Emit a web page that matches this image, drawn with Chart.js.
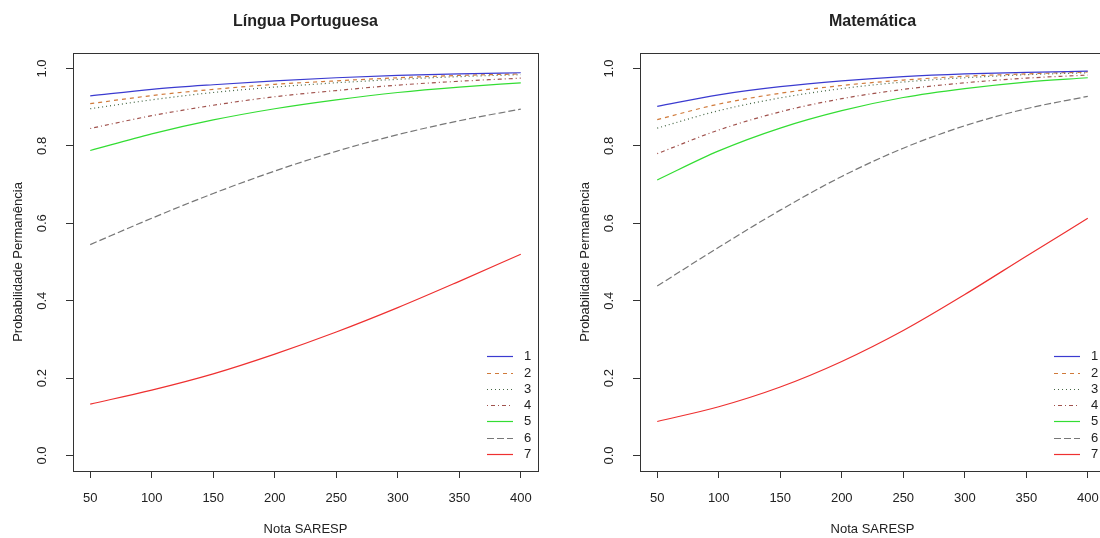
<!DOCTYPE html>
<html>
<head>
<meta charset="utf-8">
<script src="https://cdn.jsdelivr.net/npm/chart.js@4"></script>
<style>
  body { margin: 0; background: #fff; overflow: hidden; width: 1100px; height: 538px; }
  canvas { position: absolute; top: 0; }
</style>
</head>
<body>
<canvas id="lp" width="555" height="538" style="left:0"></canvas>
<canvas id="mat" width="567" height="538" style="left:555px"></canvas>
<script>
// --- data ---
const notas = [50, 100, 150, 200, 250, 300, 350, 400];
const xTicks = [50, 100, 150, 200, 250, 300, 350, 400];
const yTicks = [0, 0.2, 0.4, 0.6, 0.8, 1.0];
const yTickLabels = ['0.0', '0.2', '0.4', '0.6', '0.8', '1.0'];
const seriesNames = ['1', '2', '3', '4', '5', '6', '7'];

// Língua Portuguesa
const lp1 = [0.929, 0.946, 0.958, 0.968, 0.976, 0.982, 0.986, 0.989];
const lp2 = [0.909, 0.930, 0.946, 0.959, 0.968, 0.976, 0.982, 0.986];
const lp3 = [0.896, 0.919, 0.938, 0.952, 0.963, 0.972, 0.979, 0.984];
const lp4 = [0.845, 0.878, 0.905, 0.927, 0.943, 0.957, 0.967, 0.975];
const lp5 = [0.788, 0.831, 0.867, 0.896, 0.919, 0.938, 0.952, 0.963];
const lp6 = [0.545, 0.613, 0.677, 0.735, 0.786, 0.829, 0.865, 0.895];
const lp7 = [0.133, 0.169, 0.211, 0.262, 0.319, 0.382, 0.450, 0.520];

// Matemática
const mat1 = [0.902, 0.932, 0.953, 0.968, 0.979, 0.986, 0.990, 0.993];
const mat2 = [0.868, 0.908, 0.936, 0.956, 0.970, 0.980, 0.986, 0.991];
const mat3 = [0.846, 0.891, 0.924, 0.948, 0.965, 0.976, 0.984, 0.989];
const mat4 = [0.780, 0.841, 0.888, 0.922, 0.946, 0.963, 0.975, 0.983];
const mat5 = [0.712, 0.787, 0.846, 0.891, 0.925, 0.948, 0.965, 0.976];
const mat6 = [0.438, 0.538, 0.634, 0.721, 0.794, 0.852, 0.896, 0.928];
const mat7 = [0.088, 0.126, 0.177, 0.243, 0.323, 0.416, 0.515, 0.613];

// --- styles ---
const lineColors = ['#3b3bd0', '#d07a3a', '#446644', '#a0524d', '#33dd33', '#777777', '#ee3030'];
const lineDashes = [[], [4, 4], [1, 3], [1, 3, 4, 3], [], [7, 3], []];
const FONT = '"Liberation Sans", Arial, sans-serif';
const INK = '#222';

// draws the R-style box, rotated y labels, titles and legend
const rBase = {
  id: 'rBase',
  afterDraw(chart, args, opts) {
    const { ctx, chartArea: a, scales } = chart;
    ctx.save();
    ctx.strokeStyle = '#333';
    ctx.lineWidth = 1;
    ctx.setLineDash([]);
    const l = Math.round(a.left), t = Math.round(a.top);
    ctx.strokeRect(l + 0.5, t + 0.5, Math.round(a.right) - l, Math.round(a.bottom) - t);

    ctx.fillStyle = INK;
    // y tick labels, rotated like R's default
    ctx.font = '13px ' + FONT;
    ctx.textAlign = 'center';
    ctx.textBaseline = 'middle';
    yTicks.forEach((v, i) => {
      ctx.save();
      ctx.translate(a.left - 31, scales.y.getPixelForValue(v));
      ctx.rotate(-Math.PI / 2);
      ctx.fillText(yTickLabels[i], 0, 0);
      ctx.restore();
    });

    // axis titles
    ctx.save();
    ctx.translate(a.left - 55, (a.top + a.bottom) / 2);
    ctx.rotate(-Math.PI / 2);
    ctx.fillText('Probabilidade Permanência', 0, 0);
    ctx.restore();
    ctx.fillText('Nota SARESP', (a.left + a.right) / 2, a.bottom + 58);

    // main title
    ctx.font = 'bold 16px ' + FONT;
    ctx.fillText(opts.title, (a.left + a.right) / 2, 22);

    // legend (no box)
    ctx.font = '13px ' + FONT;
    ctx.textAlign = 'left';
    ctx.lineWidth = 1.2;
    seriesNames.forEach((name, i) => {
      const yy = Math.round(a.bottom - 17 - (seriesNames.length - 1 - i) * 16.3) + 0.5;
      ctx.strokeStyle = lineColors[i];
      ctx.setLineDash(lineDashes[i]);
      ctx.beginPath();
      ctx.moveTo(a.right - 51, yy);
      ctx.lineTo(a.right - 25, yy);
      ctx.stroke();
      ctx.setLineDash([]);
      ctx.fillText(name, a.right - 14, yy);
    });
    ctx.restore();
  }
};

function makeChart(id, title, series, yWidth) {
  const datasets = series.map((vals, i) => ({
    label: seriesNames[i],
    data: notas.map((n, j) => ({ x: n, y: vals[j] })),
    borderColor: lineColors[i],
    borderDash: lineDashes[i],
    borderWidth: 1.2,
    pointRadius: 0,
    cubicInterpolationMode: 'monotone',
    fill: false
  }));
  return new Chart(document.getElementById(id), {
    type: 'line',
    data: { datasets },
    plugins: [rBase],
    options: {
      responsive: false,
      animation: false,
      devicePixelRatio: 1,
      layout: { padding: { left: 0, right: 17, top: 53, bottom: 0 } },
      plugins: {
        legend: { display: false },
        tooltip: { enabled: false },
        rBase: { title }
      },
      scales: {
        x: {
          type: 'linear',
          min: 36, max: 414,
          afterBuildTicks: s => { s.ticks = xTicks.map(v => ({ value: v })); },
          afterFit: s => { s.height = 67; },
          grid: { drawOnChartArea: false, drawTicks: true, tickLength: 7, color: '#333', tickColor: '#333' },
          border: { display: false },
          ticks: { autoSkip: false, maxRotation: 0, padding: 13, color: INK, font: { family: FONT, size: 13 } }
        },
        y: {
          type: 'linear',
          min: -0.04, max: 1.04,
          afterBuildTicks: s => { s.ticks = yTicks.map(v => ({ value: v })); },
          afterFit: s => { s.width = yWidth; },
          grid: { drawOnChartArea: false, drawTicks: true, tickLength: 7, color: '#333', tickColor: '#333' },
          border: { display: false },
          ticks: { color: 'rgba(0,0,0,0)', font: { family: FONT, size: 13 } }
        }
      }
    }
  });
}

makeChart('lp', 'Língua Portuguesa', [lp1, lp2, lp3, lp4, lp5, lp6, lp7], 73);
makeChart('mat', 'Matemática', [mat1, mat2, mat3, mat4, mat5, mat6, mat7], 85);
</script>
</body>
</html>
